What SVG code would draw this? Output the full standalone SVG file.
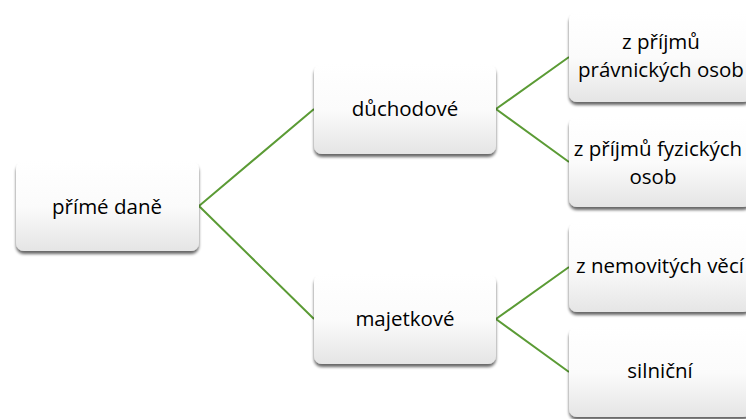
<svg xmlns="http://www.w3.org/2000/svg" width="746" height="419" viewBox="0 0 746 419">
  <defs>
    <linearGradient id="boxFill" x1="0" y1="0" x2="0" y2="1">
      <stop offset="0" stop-color="#ffffff"/>
      <stop offset="0.5" stop-color="#fbfbfb"/>
      <stop offset="1" stop-color="#e5e5e5"/>
    </linearGradient>
    <filter id="shadow" x="-10%" y="-10%" width="120%" height="130%">
      <feGaussianBlur in="SourceAlpha" stdDeviation="1.6"/>
      <feOffset dx="0" dy="2.5" result="b"/>
      <feComponentTransfer><feFuncA type="linear" slope="0.6"/></feComponentTransfer>
      <feMerge><feMergeNode/><feMergeNode in="SourceGraphic"/></feMerge>
    </filter>
  </defs>
  <style>
    .box { fill: url(#boxFill); filter: url(#shadow); }
    .lbl { font-family: "Open Sans", "Noto Sans", sans-serif; font-size: 20.5px; fill: #000; text-anchor: middle; }
    .link { stroke: #5b9b35; stroke-width: 2; fill: none; }
  </style>
  <rect width="746" height="419" fill="#ffffff"/>

  <g id="connectors">
    <polyline class="link" points="314,109 199,206 314,319"/>
    <polyline class="link" points="569,57 496,109 569,162"/>
    <polyline class="link" points="569,267 496,319 569,372"/>
  </g>

  <g id="prime-dane">
    <rect class="box" x="16" y="161" width="183" height="90" rx="8"/>
    <text class="lbl" x="107" y="214">přímé daně</text>
  </g>
  <g id="duchodove">
    <rect class="box" x="314" y="64" width="182" height="90" rx="8"/>
    <text class="lbl" x="405" y="116">důchodové</text>
  </g>
  <g id="majetkove">
    <rect class="box" x="314" y="274" width="182" height="90" rx="8"/>
    <text class="lbl" x="405" y="326">majetkové</text>
  </g>
  <g id="pravnicke-osoby">
    <rect class="box" x="569" y="12" width="182" height="90" rx="8"/>
    <text class="lbl" x="661" y="49">z příjmů<tspan x="661" dy="28">právnických osob</tspan></text>
  </g>
  <g id="fyzicke-osoby">
    <rect class="box" x="569" y="117" width="182" height="90" rx="8"/>
    <text class="lbl" x="658" y="156">z příjmů fyzických<tspan x="653" dy="28">osob</tspan></text>
  </g>
  <g id="nemovite-veci">
    <rect class="box" x="569" y="222" width="182" height="90" rx="8"/>
    <text class="lbl" x="660" y="273">z nemovitých věcí</text>
  </g>
  <g id="silnicni">
    <rect class="box" x="569" y="327" width="182" height="90" rx="8"/>
    <text class="lbl" x="660" y="378">silniční</text>
  </g>
</svg>
